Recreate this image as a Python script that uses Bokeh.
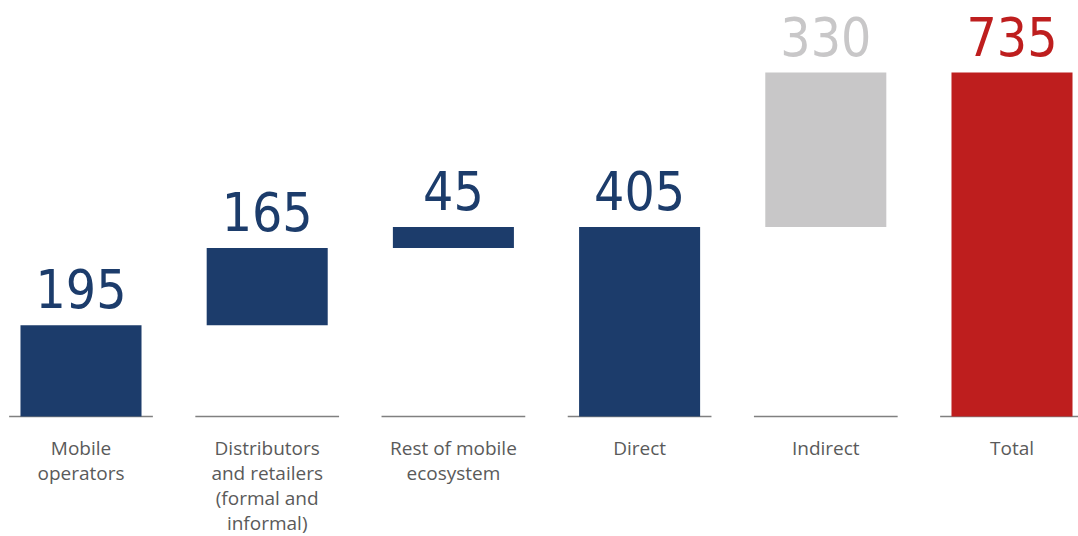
from bokeh.plotting import figure
from bokeh.models import ColumnDataSource, Range1d
from bokeh.core.properties import value
from bokeh.embed import file_html
from bokeh.resources import INLINE

categories = ["Mobile\noperators", "Distributors\nand retailers\n(formal and\ninformal)",
              "Rest of mobile\necosystem", "Direct", "Indirect", "Total"]
values = [195, 165, 45, 405, 330, 735]
bottoms = [0, 195, 360, 0, 405, 0]
colors = ["#1c3c6b", "#1c3c6b", "#1c3c6b", "#1c3c6b", "#c8c7c8", "#be1e1e"]
value_labels = ["195", "165", "45", "405", "330", "735"]

xs = list(range(len(categories)))
tops = [b + v for b, v in zip(bottoms, values)]

src = ColumnDataSource(dict(x=xs, bottom=bottoms, top=tops, color=colors,
                            lab=value_labels, cat=categories, zero=[0] * len(xs),
                            x0=[x - 0.386 for x in xs], x1=[x + 0.386 for x in xs]))

# frame: 1078 x 536 px; baseline at 416 px, total top at 72 px
scale = (416 - 72) / 735.0
xscale = 186.2
p = figure(width=1078, height=536, output_backend="svg", toolbar_location=None,
           x_range=Range1d(-80.5 / xscale, 5 + (1078 - 1011.5) / xscale),
           y_range=Range1d(-(536 - 416) / scale, 416 / scale),
           min_border=0, outline_line_color=None)
p.axis.visible = False
p.grid.visible = False

p.segment(x0="x0", x1="x1", y0="zero", y1="zero", source=src, line_color="#808080", line_width=1.5)
p.vbar(x="x", width=0.65, bottom="bottom", top="top", fill_color="color", line_color=None, source=src)
p.text(x="x", y="top", text="lab", source=src, text_color="color", text_align="center",
       text_baseline="bottom", y_offset=-17, text_font=value("'DejaVu Sans Condensed', Roboto"),
       text_font_size="53px")
p.text(x="x", y="zero", text="cat", source=src, text_color="#5a5a5a", text_align="center",
       text_baseline="top", y_offset=18, text_font=value("Open Sans"), text_font_size="19px",
       text_line_height=0.97)

open("out.html", "w").write(file_html(p, INLINE))
